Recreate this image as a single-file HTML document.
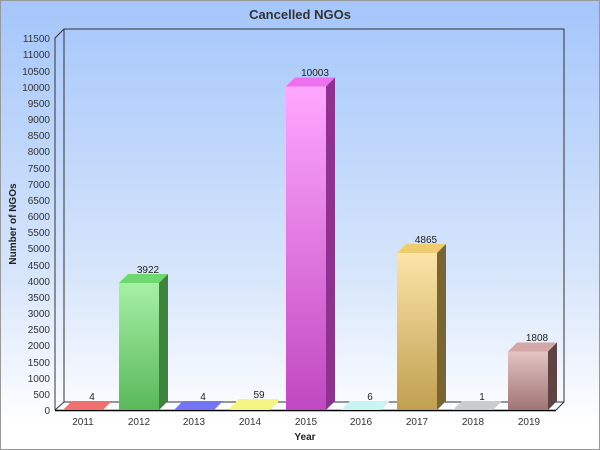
<!DOCTYPE html>
<html><head><style>
body{margin:0}
svg{display:block;font-family:"Liberation Sans",sans-serif}
</style></head><body>
<svg width="600" height="450" xmlns="http://www.w3.org/2000/svg">
<defs>
<linearGradient id="bg" x1="0" y1="0" x2="0" y2="1">
<stop offset="0" stop-color="#a5c6fb"/><stop offset="0.6" stop-color="#d6e5fb"/><stop offset="0.95" stop-color="#ffffff"/></linearGradient>
<linearGradient id="g1" x1="0" y1="0" x2="0" y2="1"><stop offset="0" stop-color="#a6f0a6"/><stop offset="1" stop-color="#5ab85a"/></linearGradient>
<linearGradient id="g2" x1="0" y1="0" x2="0" y2="1"><stop offset="0" stop-color="#ffa8ff"/><stop offset="1" stop-color="#c048c0"/></linearGradient>
<linearGradient id="g3" x1="0" y1="0" x2="0" y2="1"><stop offset="0" stop-color="#fde4a8"/><stop offset="1" stop-color="#c0a050"/></linearGradient>
<linearGradient id="g4" x1="0" y1="0" x2="0" y2="1"><stop offset="0" stop-color="#e4c4c4"/><stop offset="1" stop-color="#a07474"/></linearGradient>
</defs>
<rect x="0.5" y="0.5" width="599" height="449" fill="url(#bg)" stroke="#999"/>
<text x="300" y="19" text-anchor="middle" font-size="13" font-weight="bold" fill="#333">Cancelled NGOs</text>
<!-- walls -->
<polyline points="55,410 55,38 64,29 564,29 564,402 556,410" fill="none" stroke="#333" stroke-width="1"/>
<line x1="64" y1="29" x2="64" y2="402" stroke="#333"/>
<line x1="64" y1="402" x2="564" y2="402" stroke="#333"/>
<line x1="55" y1="410" x2="64" y2="402" stroke="#333"/>
<line x1="55" y1="410.5" x2="556" y2="410.5" stroke="#000" stroke-width="1.5"/>
<g font-size="10" fill="#333" text-anchor="end">
<text x="50" y="414">0</text><text x="50" y="398">500</text><text x="50" y="382">1000</text><text x="50" y="366">1500</text><text x="50" y="349">2000</text><text x="50" y="333">2500</text><text x="50" y="317">3000</text><text x="50" y="301">3500</text><text x="50" y="285">4000</text><text x="50" y="269">4500</text><text x="50" y="252">5000</text><text x="50" y="236">5500</text><text x="50" y="220">6000</text><text x="50" y="204">6500</text><text x="50" y="188">7000</text><text x="50" y="172">7500</text><text x="50" y="155">8000</text><text x="50" y="139">8500</text><text x="50" y="123">9000</text><text x="50" y="107">9500</text><text x="50" y="91">10000</text><text x="50" y="75">10500</text><text x="50" y="58">11000</text><text x="50" y="42">11500</text>
</g>
<text transform="translate(16,224) rotate(-90)" text-anchor="middle" font-size="10" font-weight="bold" fill="#222">Number of NGOs</text>
<text x="305" y="440" text-anchor="middle" font-size="10" font-weight="bold" fill="#222">Year</text>
<g font-size="10" fill="#333" text-anchor="middle">
<text x="83" y="425">2011</text><text x="139" y="425">2012</text><text x="194" y="425">2013</text><text x="250" y="425">2014</text><text x="306" y="425">2015</text><text x="361" y="425">2016</text><text x="417" y="425">2017</text><text x="473" y="425">2018</text><text x="529" y="425">2019</text>
</g>
<!-- flat bars -->
<polygon points="63,410 103,410 112,401 72,401" fill="#f07070"/>
<polygon points="174,410 214,410 223,401 183,401" fill="#7474f4"/>
<polygon points="230,410 270,410 279,401 279,399 239,399 230,408" fill="#f4f484"/>
<polygon points="341,410 381,410 390,401 350,401" fill="#c8f4f4"/>
<polygon points="453,410 493,410 502,401 462,401" fill="#cccccc"/>
<!-- 3D bars -->
<rect x="119" y="283" width="40" height="127" fill="url(#g1)"/>
<polygon points="119,283 128,274 168,274 159,283" fill="#70d870"/>
<polygon points="159,283 168,274 168,401 159,410" fill="#3c843c"/>
<rect x="286" y="86.5" width="40" height="323.5" fill="url(#g2)"/>
<polygon points="286,86.5 295,77.5 335,77.5 326,86.5" fill="#ee70ee"/>
<polygon points="326,86.5 335,77.5 335,401 326,410" fill="#903090"/>
<rect x="397" y="253" width="40" height="157" fill="url(#g3)"/>
<polygon points="397,253 406,244 446,244 437,253" fill="#f0cc70"/>
<polygon points="437,253 446,244 446,401 437,410" fill="#7a6530"/>
<rect x="508" y="351.5" width="40" height="58.5" fill="url(#g4)"/>
<polygon points="508,351.5 517,342.5 557,342.5 548,351.5" fill="#d4a8a8"/>
<polygon points="548,351.5 557,342.5 557,401 548,410" fill="#604444"/>
<g font-size="10" fill="#222" text-anchor="middle">
<text x="92" y="400">4</text><text x="148" y="273">3922</text><text x="203" y="400">4</text><text x="259" y="398">59</text><text x="315" y="76">10003</text><text x="370" y="400">6</text><text x="426" y="243">4865</text><text x="482" y="400">1</text><text x="537" y="341">1808</text>
</g>
</svg>
</body></html>
